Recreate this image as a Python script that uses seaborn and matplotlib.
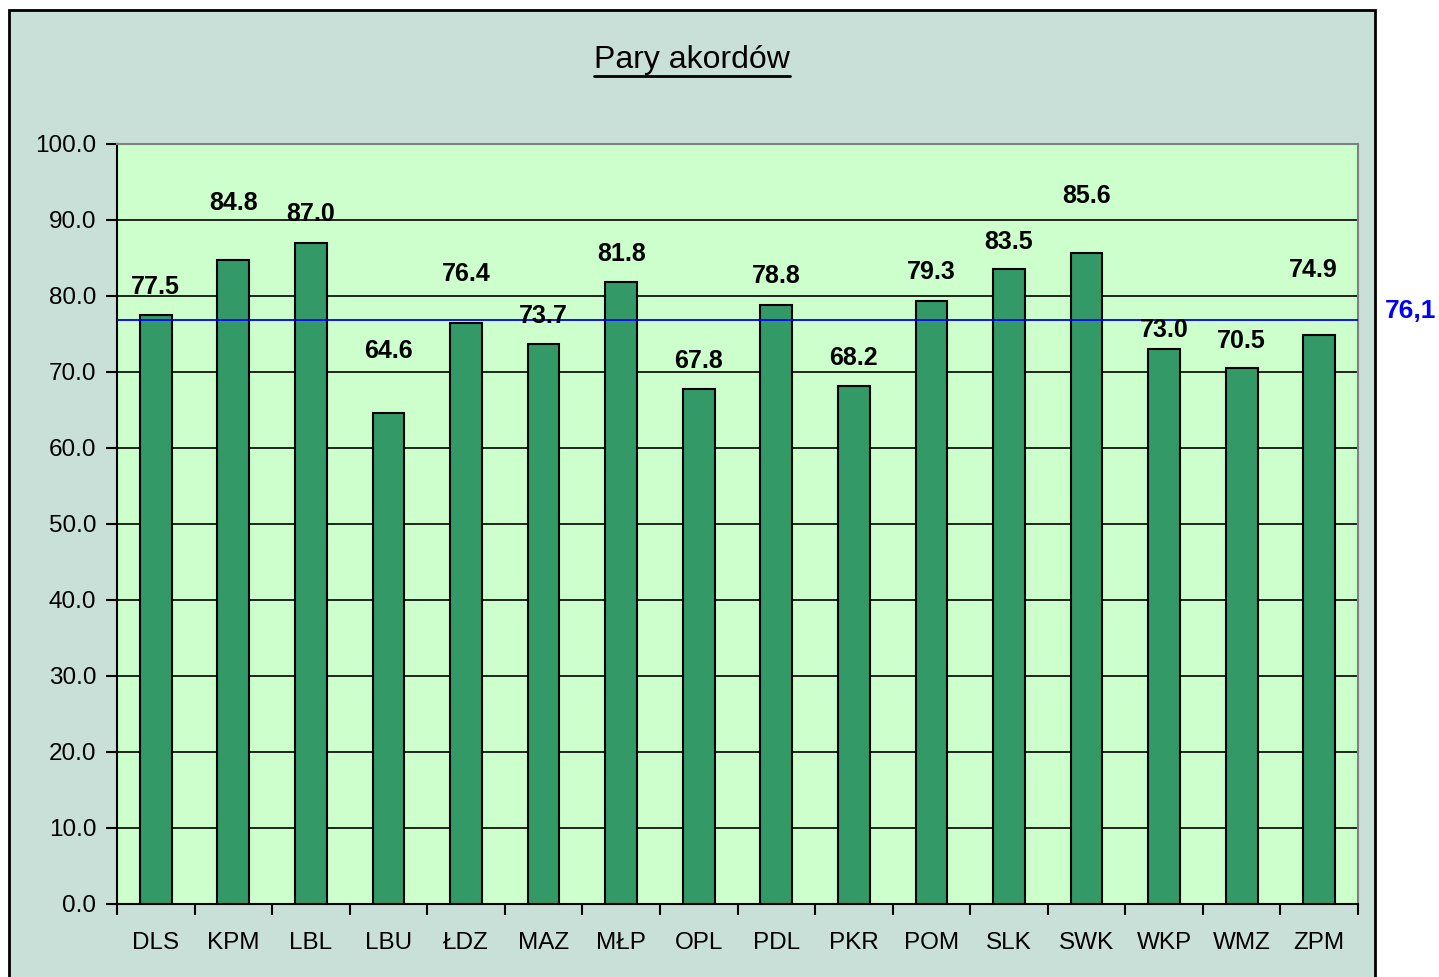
import matplotlib
matplotlib.use("Agg")
import matplotlib.pyplot as plt
import seaborn as sns
from matplotlib.patches import Rectangle
from matplotlib.lines import Line2D
from matplotlib.ticker import MultipleLocator, FormatStrFormatter

regions = ["DLS", "KPM", "LBL", "LBU", "ŁDZ", "MAZ", "MŁP", "OPL",
           "PDL", "PKR", "POM", "SLK", "SWK", "WKP", "WMZ", "ZPM"]
values = [77.5, 84.8, 87.0, 64.6, 76.4, 73.7, 81.8, 67.8,
          78.8, 68.2, 79.3, 83.5, 85.6, 73.0, 70.5, 74.9]
line_level = 76.8
line_label = "76,1"
title = "Pary akordów"

# where excel put each value label (pixels above the bar top)
label_dy = [28, 57, 29, 62, 49, 28, 28, 28, 29, 28, 29, 27, 57, 19, 27, 65]
label_dx = [0, 0, 0, 0, 0, 0, 0, 0, 0, 0, 0, 0, 0, 0, 0, -6]

sns.set_style("white")
plt.rcParams["font.family"] = ["Liberation Sans", "DejaVu Sans"]
plt.rcParams["text.color"] = "black"
plt.rcParams["xtick.color"] = "black"
plt.rcParams["ytick.color"] = "black"

fig = plt.figure(figsize=(14.39, 9.77), dpi=100)
fig.patch.set_facecolor("white")

# chart area frame
fig.patches.append(Rectangle((9 / 1439, -0.05), (1375 - 9) / 1439, (977 - 10) / 977 + 0.05,
                             transform=fig.transFigure, facecolor="#c9e0d8",
                             edgecolor="black", linewidth=2, zorder=-5))

ax = fig.add_axes([117 / 1439, 73 / 977, (1358 - 117) / 1439, (904 - 144) / 977])
ax.set_facecolor("#ccffcc")

sns.barplot(x=regions, y=values, color="#339966", saturation=1, width=0.41,
            edgecolor="black", linewidth=1.5, ax=ax, zorder=3)

ax.set_xlim(-0.5, len(regions) - 0.5)
ax.set_ylim(0, 100)
ax.yaxis.set_major_locator(MultipleLocator(10))
ax.yaxis.set_major_formatter(FormatStrFormatter("%.1f"))
ax.grid(axis="y", color="black", linewidth=1.2, zorder=1)
ax.set_axisbelow(True)

ax.set_xticks(range(len(regions)))
ax.set_xticklabels(regions)
ax.set_xticks([i - 0.5 for i in range(len(regions) + 1)], minor=True)
ax.tick_params(axis="x", which="major", length=0, pad=20, labelsize=17.5, bottom=True)
ax.tick_params(axis="x", which="minor", length=8, width=1.5, direction="out",
               color="black", bottom=True)
ax.tick_params(axis="y", which="major", length=8, width=1.5, direction="out",
               color="black", pad=7, labelsize=17.5, left=True)
ax.set_xlabel("")
ax.set_ylabel("")

for side in ["left", "bottom"]:
    ax.spines[side].set_color("black")
    ax.spines[side].set_linewidth(1.5)
for side in ["top", "right"]:
    ax.spines[side].set_color("#808080")
    ax.spines[side].set_linewidth(1.5)

for i, v in enumerate(values):
    ax.annotate(f"{v:.1f}", xy=(i, v), xytext=(label_dx[i], label_dy[i]),
                textcoords="offset pixels", ha="center", va="center",
                fontsize=18, fontweight="bold", zorder=5)

ax.axhline(line_level, color="#0000ff", linewidth=1.3, zorder=4)

fig.text(1436 / 1439, 1 - 311 / 977, line_label, color="#0000ff", fontsize=19,
         fontweight="bold", ha="right", va="center")

t = fig.text(692 / 1439, 1 - 60 / 977, title, fontsize=23, ha="center", va="center")
fig.canvas.draw()
bb = t.get_window_extent(fig.canvas.get_renderer())
uy = bb.y0 - 1
fig.lines.append(Line2D([bb.x0 / 1439, bb.x1 / 1439], [uy / 977, uy / 977],
                        transform=fig.transFigure, color="black", linewidth=2))

fig.savefig("out.png", dpi=100, facecolor=fig.get_facecolor())
